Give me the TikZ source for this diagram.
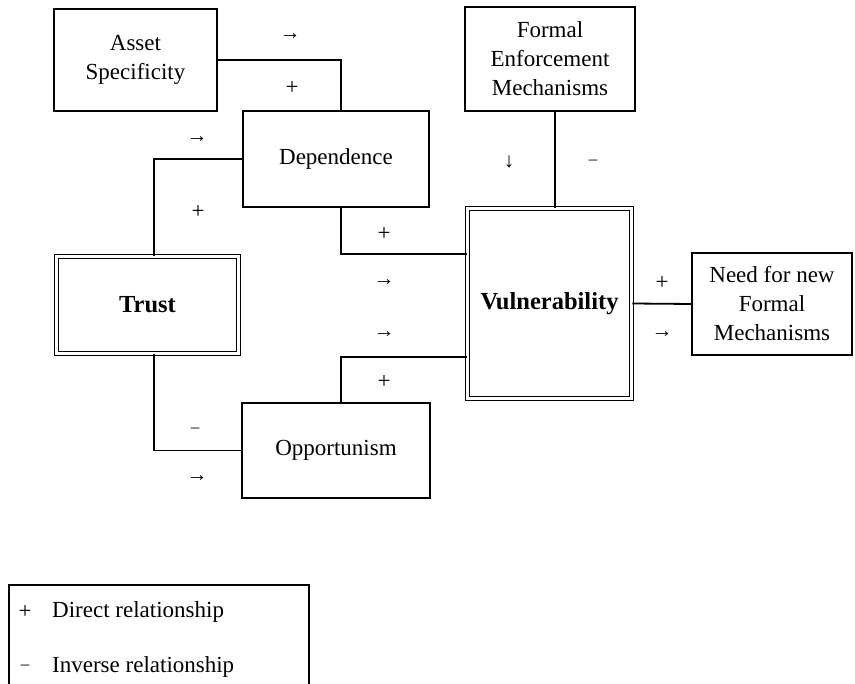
\documentclass[tikz,border=0pt]{standalone}
\usepackage{fontspec}
\setmainfont{Liberation Serif}
\begin{document}
\begin{tikzpicture}[x=1pt,y=-1pt,
  box/.style={draw,line width=1.7pt,align=center,inner sep=0pt,font=\fontsize{23}{29}\selectfont},
  dbox/.style={box,double,line width=1.5pt,double distance=2.2pt,font=\fontsize{24.5}{29}\selectfont\bfseries},
  conn/.style={line width=1.8pt},
  sgn/.style={inner sep=0pt,font=\fontsize{23}{29}\selectfont},
  arr/.style={inner sep=0pt,font=\fontsize{21}{24}\selectfont},
  dsh/.style={inner sep=0pt,font=\fontsize{17}{20}\selectfont},
  leg/.style={inner sep=0pt,anchor=west,font=\fontsize{23}{29}\selectfont}]
\useasboundingbox (0,0) rectangle (855,684);
\node[box,minimum width=163pt,minimum height=102pt] (asset) at (135.5,60) {Asset\\Specificity};
\node[box,minimum width=186pt,minimum height=96pt] (dep) at (336,159) {Dependence};
\node[dbox,minimum width=182pt,minimum height=97pt] (trust) at (147.5,305) {Trust};
\node[box,minimum width=188pt,minimum height=95pt] (opp) at (336,450.5) {Opportunism};
\node[dbox,minimum width=164pt,minimum height=190pt] (vul) at (549.5,303.5) {Vulnerability};
\node[box,minimum width=170pt,minimum height=104pt] (fem) at (550,59) {Formal\\Enforcement\\Mechanisms};
\node[box,minimum width=160pt,minimum height=102pt] (need) at (772,304) {Need for new\\Formal\\Mechanisms};
\coordinate (cA) at (341,0);
\coordinate (cB) at (154,0);
\coordinate (cC) at (555,0);
\coordinate (rA) at (0,254);
\coordinate (rB) at (0,357);
\draw[conn] (asset.east) -| (cA |- dep.north);
\draw[conn] (dep.west) -| (cB |- trust.north);
\draw[conn] (cA |- dep.south) |- (vul.west |- rA);
\draw[conn] (cB |- trust.south) |- (opp.west);
\draw[conn] (cA |- opp.north) |- (vul.west |- rB);
\draw[conn] (cC |- fem.south) -- (cC |- vul.north);
\draw[conn] (vul.east) -- (need.west);
% labels
\node[arr] (l1) at (290,37) {→};
\node[sgn] (l2) at (292,88) {+};
\node[arr] (l3) at (197,140) {→};
\node[sgn] (l4) at (198,212) {+};
\node[sgn] (l5) at (384,234) {+};
\node[arr] (l6) at (384,283) {→};
\node[arr] (l7) at (384,335) {→};
\node[sgn] (l8) at (384,382) {+};
\node[dsh] (l9) at (195,430) {–};
\node[arr] (l10) at (197,479) {→};
\node[arr] (l11) at (509,162) {↓};
\node[dsh] (l12) at (593,162) {–};
\node[sgn] (l13) at (662,283) {+};
\node[arr] (l14) at (662,335) {→};
% legend
\coordinate (lgA) at (9,690);
\coordinate (lgB) at (9,585);
\coordinate (lgC) at (309,585);
\coordinate (lgD) at (309,690);
\draw[line width=1.7pt] (lgA) -- (lgB) -- (lgC) -- (lgD);
\node[sgn] (lp) at (25,612) {+};
\node[leg] (lpt) at (52,612) {Direct relationship};
\node[dsh] (lm) at (25,667) {–};
\node[leg] (lmt) at (52,667) {Inverse relationship};
\end{tikzpicture}
\end{document}
